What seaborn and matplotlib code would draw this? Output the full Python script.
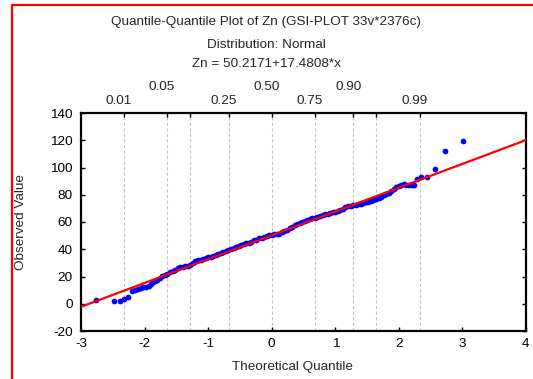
import numpy as np
import pandas as pd
import matplotlib
matplotlib.use("Agg")
import matplotlib.pyplot as plt
import matplotlib.transforms as mtransforms
from matplotlib.patches import Rectangle
import seaborn as sns
from statistics import NormalDist

# Normal-score (theoretical quantile) and observed Zn value of each plotted case
theoretical = [
    -2.76, -2.48, -2.38, -2.32, -2.26, -2.19, -2.15, -2.10, -2.06, -2.02,
    -1.97, -1.93, -1.90, -1.87, -1.84,
    -1.80, -1.76, -1.72, -1.68, -1.64, -1.60, -1.56, -1.52, -1.48, -1.44,
    -1.40, -1.36, -1.32, -1.28, -1.24, -1.20, -1.16, -1.12, -1.08, -1.04,
    -1.00, -0.96, -0.92, -0.88, -0.84, -0.80, -0.76, -0.72, -0.68, -0.64,
    -0.60, -0.56, -0.52, -0.48, -0.44, -0.40, -0.36, -0.32, -0.28, -0.24,
    -0.20, -0.16, -0.12, -0.08, -0.04, 0.00, 0.04, 0.08, 0.12, 0.16,
    0.20, 0.24, 0.28, 0.32, 0.36, 0.40, 0.44, 0.48, 0.52, 0.56,
    0.60, 0.64, 0.68, 0.72, 0.76, 0.80, 0.84, 0.88, 0.92, 0.96,
    1.00, 1.04, 1.08, 1.12, 1.16, 1.20, 1.24, 1.28, 1.32, 1.36,
    1.40, 1.44, 1.48, 1.52, 1.56, 1.60, 1.64, 1.68, 1.72, 1.76,
    1.80, 1.84, 1.88, 1.92, 1.96, 2.00, 2.04,
    2.08, 2.12, 2.16, 2.20, 2.24, 2.29, 2.35, 2.45, 2.57, 2.73, 3.01,
]
observed = [
    2.5, 1.8, 1.8, 3.3, 4.7, 9.6, 9.8, 10.6, 11.5, 12.0,
    12.5, 13.0, 14.5, 15.8, 16.5,
    17.6, 19.0, 20.2, 21.2, 22.0, 23.0, 24.0, 25.1, 26.3, 27.0,
    27.2, 27.5, 27.6, 28.8, 30.0, 31.2, 31.9, 32.4, 32.8, 33.5,
    34.2, 34.6, 35.3, 35.8, 36.7, 37.2, 38.1, 38.8, 39.3, 40.3,
    41.0, 41.9, 42.3, 43.0, 43.5, 44.4, 44.9, 45.6, 46.5, 47.0,
    47.9, 48.4, 48.9, 49.6, 50.3, 50.7, 50.9, 51.1, 51.5, 52.5,
    53.4, 54.4, 55.4, 56.6, 57.7, 58.7, 59.4, 60.1, 60.8, 61.5,
    62.2, 62.7, 63.3, 63.8, 64.5, 65.2, 65.7, 66.1, 66.6, 67.0,
    67.4, 67.9, 68.8, 69.8, 70.8, 71.5, 71.9, 72.3, 72.5, 73.0,
    73.5, 73.9, 74.6, 75.0, 75.5, 76.2, 76.9, 77.6, 78.5, 79.5,
    80.5, 81.6, 82.8, 84.3, 85.7, 86.7, 87.4,
    87.6, 87.2, 87.2, 87.2, 87.0, 91.6, 92.8, 92.8, 98.9, 112.1, 119.7,
]

# Fitted reference line Zn = a + b*x
intercept = 50.2171
slope = 17.4808

# Cumulative probability levels marked along the top
prob_levels = [0.01, 0.05, 0.10, 0.25, 0.50, 0.75, 0.90, 0.95, 0.99]
prob_labels_low = ["0.01", "0.25", "0.75", "0.99"]
prob_labels_high = ["0.05", "0.50", "0.90"]

x_ticks = [-3, -2, -1, 0, 1, 2, 3, 4]
y_ticks = [-20, 0, 20, 40, 60, 80, 100, 120, 140]

sns.set_theme(style="white")
plt.rcParams["font.family"] = ["Liberation Sans", "DejaVu Sans"]
FS = 9.7

W, H = 533, 379
fig = plt.figure(figsize=(W / 100, H / 100), dpi=100)
fig.patch.set_facecolor("white")
ax = fig.add_axes([81 / W, 1 - 331 / H, 445 / W, 218 / H])
ax.set_facecolor("white")

norm = NormalDist()
prob_pos = [norm.inv_cdf(p) for p in prob_levels]
for xq in prob_pos:
    ax.axvline(xq, color="#c4c4c4", lw=0.8, ls=(0, (3, 2)), zorder=0)

df = pd.DataFrame({"q": theoretical, "v": observed})
sns.scatterplot(data=df, x="q", y="v", color="#0000ff", s=17, linewidth=0,
                ax=ax, zorder=3, legend=False)

line_x = np.array([-3.0, 4.0])
sns.lineplot(x=line_x, y=intercept + slope * line_x, color="#ff0000", lw=1.6,
             ax=ax, zorder=4)

ax.set_xlim(-3, 4)
ax.set_ylim(-20, 140)
ax.set_xticks(x_ticks)
ax.set_yticks(y_ticks)
ax.set_xticklabels([str(t) for t in x_ticks], fontsize=FS)
ax.set_yticklabels([str(t) for t in y_ticks], fontsize=FS)
ax.set_xlabel("")
ax.set_ylabel("")
ax.tick_params(axis="both", direction="in", length=3, width=1.0, color="black",
               labelcolor="black", bottom=True, left=True, right=True, top=False)
ax.tick_params(axis="x", pad=5)
ax.tick_params(axis="y", pad=6)
for sp in ax.spines.values():
    sp.set_visible(True)
    sp.set_color("black")
    sp.set_linewidth(1.6)

# short inward ticks on the top edge at the probability levels
top = ax.secondary_xaxis("top")
top.set_xticks(prob_pos)
top.set_xticklabels([""] * len(prob_pos))
top.tick_params(direction="in", length=3, width=1.0, color="black")
top.spines["top"].set_visible(False)

# staggered probability labels
shift = mtransforms.offset_copy(ax.transData, fig=fig, x=-5, y=0, units="dots")
blend = mtransforms.blended_transform_factory(shift, fig.transFigure)
label_map = dict(zip(prob_levels, [f"{p:.2f}" for p in prob_levels]))
for p, xq in zip(prob_levels, prob_pos):
    lab = label_map[p]
    if lab in prob_labels_low:
        ax.text(xq, 1 - 101 / H, lab, transform=blend, ha="center", va="center",
                fontsize=FS, clip_on=False)
    elif lab in prob_labels_high:
        ax.text(xq, 1 - 87 / H, lab, transform=blend, ha="center", va="center",
                fontsize=FS, clip_on=False)

fig.text(266 / W, 1 - 22 / H, "Quantile-Quantile Plot of Zn (GSI-PLOT 33v*2376c)",
         ha="center", va="center", fontsize=FS)
fig.text(266 / W, 1 - 45 / H, "Distribution: Normal", ha="center", va="center",
         fontsize=FS)
fig.text(266 / W, 1 - 64 / H, "Zn = 50.2171+17.4808*x", ha="center", va="center",
         fontsize=FS)
fig.text(292 / W, 1 - 367 / H, "Theoretical Quantile", ha="center", va="center",
         fontsize=FS)
fig.text(21 / W, 1 - 222 / H, "Observed Value", ha="center", va="center",
         rotation=90, fontsize=FS)

# red frame around the chart window
fig.patches.append(Rectangle((12 / W, -0.5), 2.0, 0.5 + 1 - 5 / H,
                             transform=fig.transFigure, fill=False,
                             edgecolor="#ff0000", lw=1.6, zorder=10))

fig.savefig("out.png", dpi=100)
